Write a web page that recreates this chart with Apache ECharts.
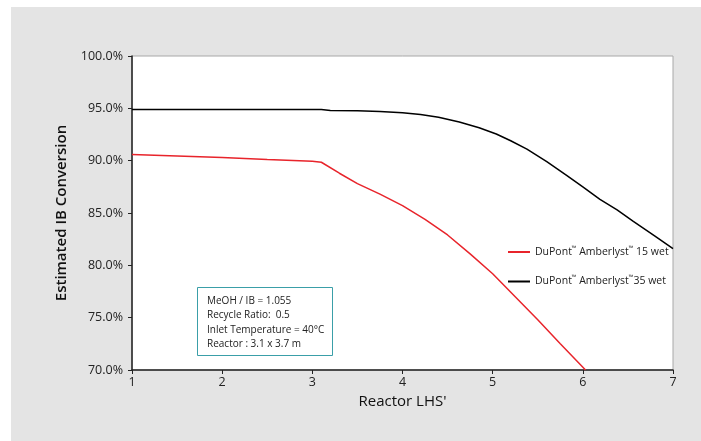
<!DOCTYPE html>
<html><head><meta charset="utf-8">
<script src="https://cdn.jsdelivr.net/npm/echarts@6/dist/echarts.min.js"></script>
<style>html,body{margin:0;padding:0;background:#fff}#c{width:701px;height:441px}</style>
</head><body><div id="c"></div>
<script>
const xTicks = [1, 2, 3, 4, 5, 6, 7];
const yTicks = [70, 75, 80, 85, 90, 95, 100];
const series15Name = 'DuPont\u2122 Amberlyst\u2122 15 wet';
const series35Name = 'DuPont\u2122 Amberlyst\u212235 wet';
const red15 = [[1,90.6],[1.5,90.45],[2,90.3],[2.5,90.1],[3,89.95],[3.1,89.85],[3.3,88.8],[3.5,87.8],[3.75,86.8],[4,85.7],[4.25,84.4],[4.5,82.9],[4.75,81.1],[5,79.2],[5.25,77.0],[5.5,74.8],[5.75,72.5],[6.03,70.0]];
const black35 = [[1,94.88],[2,94.88],[3,94.88],[3.1,94.88],[3.2,94.8],[3.5,94.78],[3.75,94.7],[4,94.58],[4.2,94.4],[4.4,94.15],[4.63,93.7],[4.85,93.15],[5.04,92.55],[5.2,91.9],[5.38,91.1],[5.6,89.9],[5.82,88.6],[6,87.5],[6.19,86.3],[6.38,85.3],[6.56,84.2],[6.8,82.8],[7,81.6]];
const noteLines = ['MeOH / IB = 1.055', 'Recycle Ratio:  0.5', 'Inlet Temperature = 40\u00b0C', 'Reactor : 3.1 x 3.7 m'];

const chart = echarts.init(document.getElementById('c'));
const font = 'Open Sans';
function tmRich(name) {
  return name.split('\u2122').map(s => '{t|' + s + '}').join('{m|\u2122}');
}
chart.setOption({
  backgroundColor: '#fff',
  animation: false,
  textStyle: {fontFamily: font},
  graphic: [
    {type: 'rect', z: -10, shape: {x: 11, y: 7, width: 700, height: 440}, style: {fill: '#e4e4e4'}},
    {type: 'rect', z: 10, shape: {x: 197.5, y: 287.5, width: 135, height: 68}, style: {fill: '#fff', stroke: '#3a9fa8', lineWidth: 1}},
    {type: 'text', z: 11, left: 207, top: 294, style: {text: noteLines.join('\n'), font: '10px "Open Sans"', lineHeight: 14.3, fill: '#222'}}
  ],
  legend: {
    show: true, orient: 'vertical', left: 503, top: 240, itemGap: 17, itemWidth: 22, itemHeight: 2,
    icon: 'rect',
    formatter: tmRich,
    textStyle: {fontFamily: font, fontSize: 10.5, color: '#222',
      rich: {t: {fontFamily: font, fontSize: 10.5, color: '#222', lineHeight: 14},
             m: {fontFamily: font, fontSize: 6, color: '#222', verticalAlign: 'top', lineHeight: 14}}},
    data: [series15Name, series35Name]
  },
  grid: {left: 132, right: 28, top: 56, bottom: 71, show: true, backgroundColor: '#fff', borderColor: '#a8a8a8', borderWidth: 1},
  xAxis: {
    type: 'value', min: xTicks[0], max: xTicks[xTicks.length-1], interval: 1,
    name: 'Reactor LHS\'', nameLocation: 'middle', nameGap: 18,
    nameTextStyle: {fontFamily: font, fontSize: 15, color: '#111'},
    axisLine: {lineStyle: {color: '#222', width: 1.5}},
    axisTick: {show: true, length: 4, lineStyle: {color: '#222'}},
    axisLabel: {fontSize: 12.5, color: '#222', margin: 6},
    splitLine: {show: false}
  },
  yAxis: {
    type: 'value', min: yTicks[0], max: yTicks[yTicks.length-1], interval: 5,
    name: 'Estimated IB Conversion', nameLocation: 'middle', nameGap: 63,
    nameTextStyle: {fontFamily: font, fontSize: 15, color: '#111', fontWeight: 600},
    axisLine: {show: true, lineStyle: {color: '#222', width: 1.5}},
    axisTick: {show: true, length: 4, lineStyle: {color: '#222'}},
    axisLabel: {fontSize: 12.5, color: '#222', margin: 9, formatter: v => v.toFixed(1) + '%'},
    splitLine: {show: false}
  },
  series: [
    {name: series15Name, type: 'line', data: red15, showSymbol: false, smooth: false, lineStyle: {color: '#e8242b', width: 1.5}, itemStyle: {color: '#e8242b'}},
    {name: series35Name, type: 'line', data: black35, showSymbol: false, smooth: false, lineStyle: {color: '#000', width: 1.5}, itemStyle: {color: '#000'}}
  ]
});
</script></body></html>
